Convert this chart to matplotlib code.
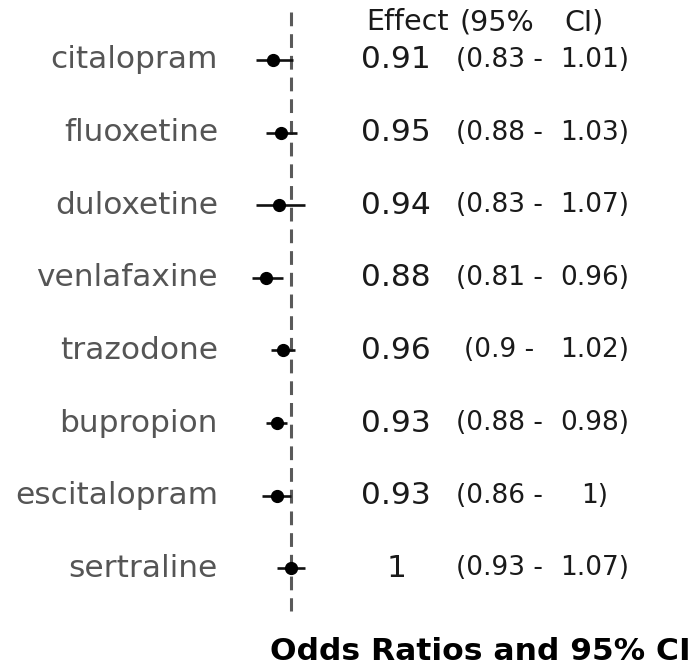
import matplotlib.pyplot as plt

drugs = ["citalopram", "fluoxetine", "duloxetine", "venlafaxine",
         "trazodone", "bupropion", "escitalopram", "sertraline"]
effect = [0.91, 0.95, 0.94, 0.88, 0.96, 0.93, 0.93, 1.00]
lower = [0.83, 0.88, 0.83, 0.81, 0.90, 0.88, 0.86, 0.93]
upper = [1.01, 1.03, 1.07, 0.96, 1.02, 0.98, 1.00, 1.07]
effect_txt = ["0.91", "0.95", "0.94", "0.88", "0.96", "0.93", "0.93", "1"]
lower_txt = ["0.83", "0.88", "0.83", "0.81", "0.9", "0.88", "0.86", "0.93"]
upper_txt = ["1.01", "1.03", "1.07", "0.96", "1.02", "0.98", "1", "1.07"]

W, H = 697, 666
fig = plt.figure(figsize=(W / 100, H / 100), dpi=100)
ax = fig.add_axes([0, 0, 1, 1])
ax.axis("off")

# x=1 sits at pixel 291, 205 px per unit; rows 72.6 px apart starting at 60
ppu = 205
ax.set_xlim(1 - 291 / ppu, 1 + (W - 291) / ppu)
row = 72.6
ax.set_ylim((H - 60) / row, -60 / row)

def py(p):
    return (p - 60) / row

ys = list(range(len(drugs)))

ax.plot([1, 1], [py(12), py(611)], color="#5a5a5a", lw=2.2,
        dashes=(4.5, 2.6), zorder=1)

ax.hlines(ys, lower, upper, color="#111111", lw=1.9, zorder=2)
ax.plot(effect, ys, "o", color="black", ms=8.5, zorder=3)

tx = ax.get_yaxis_transform()
for i, d in enumerate(drugs):
    ax.text(218 / W, i, d, transform=tx, ha="right", va="center",
            fontsize=22.5, color="#555555")
    ax.text(396 / W, i, effect_txt[i], transform=tx, ha="center",
            va="center", fontsize=22.5, color="#1a1a1a")
    ax.text(499 / W, i, "(" + lower_txt[i] + " -", transform=tx,
            ha="center", va="center", fontsize=19, color="#1a1a1a")
    ax.text(595 / W, i, upper_txt[i] + ")", transform=tx, ha="center",
            va="center", fontsize=19, color="#1a1a1a")

ax.text(407 / W, py(22), "Effect", transform=tx, ha="center", va="center",
        fontsize=20.5, color="#1a1a1a")
ax.text(497 / W, py(22), "(95%", transform=tx, ha="center", va="center",
        fontsize=20.5, color="#1a1a1a")
ax.text(584 / W, py(22), "CI)", transform=tx, ha="center", va="center",
        fontsize=20.5, color="#1a1a1a")

ax.text(480 / W, py(652), "Odds Ratios and 95% CI", transform=tx,
        ha="center", va="center", fontsize=22.6, fontweight="bold",
        color="black")

fig.savefig("out.png", dpi=100)
